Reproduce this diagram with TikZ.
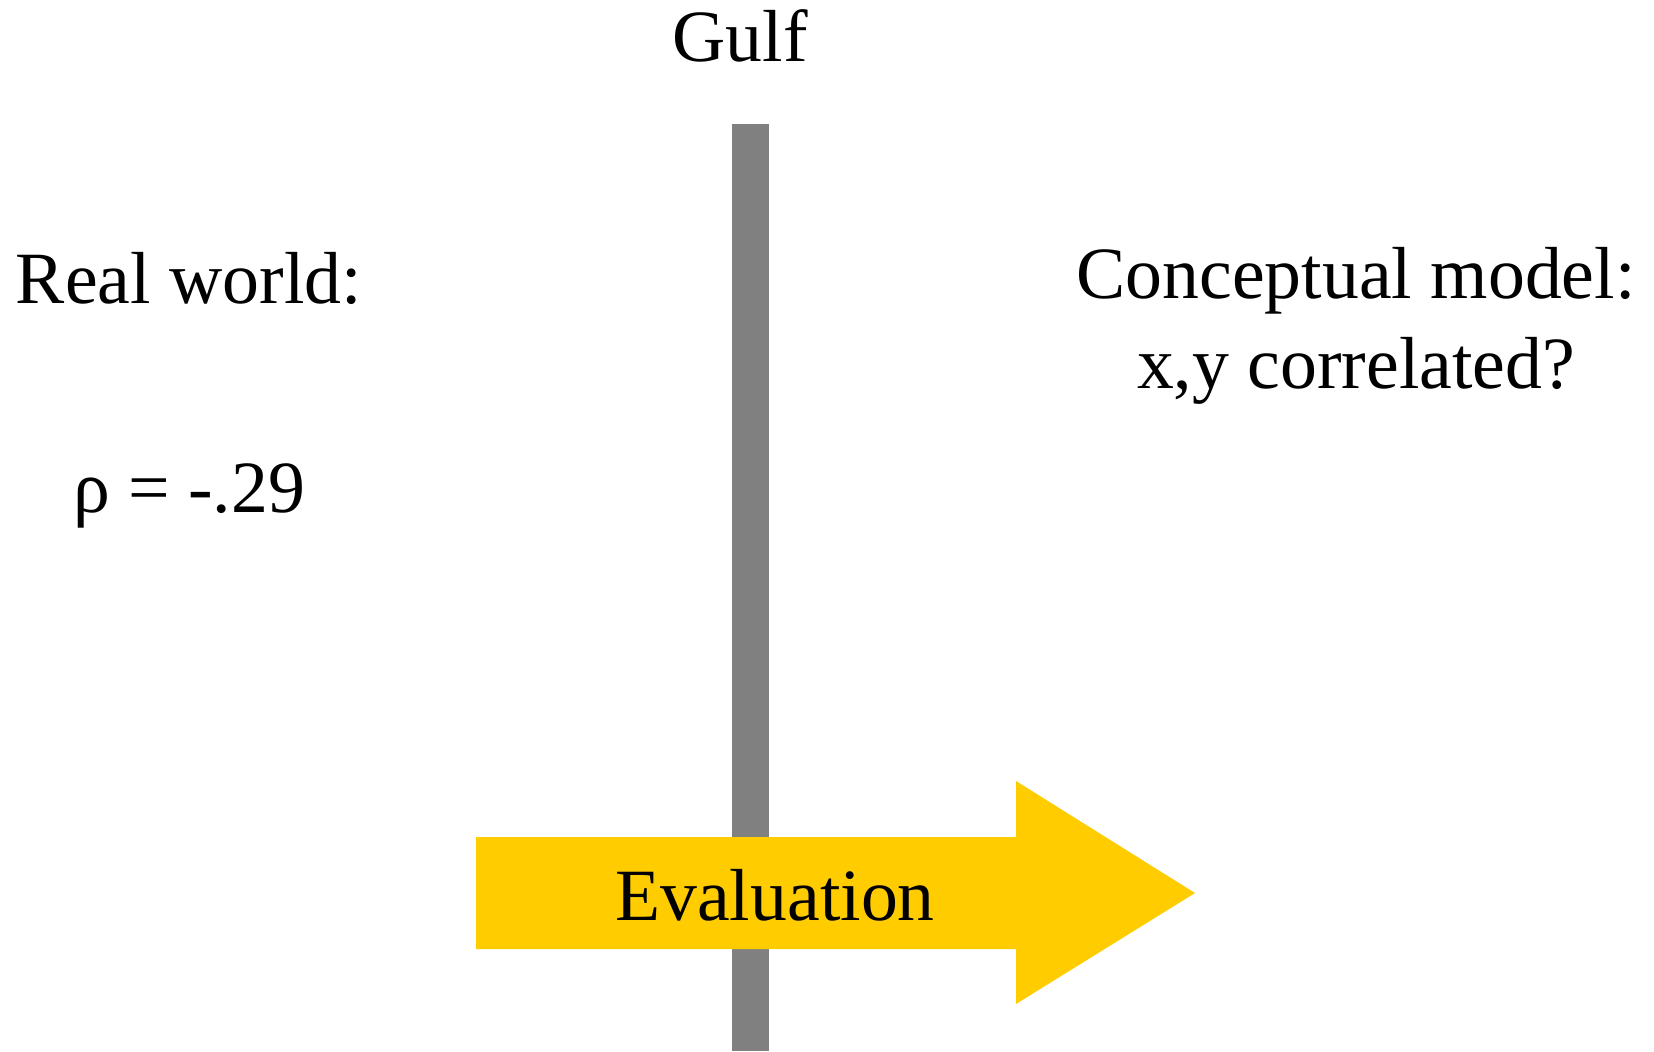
\documentclass[tikz,border=0pt]{standalone}
\usepackage{fontspec}
\setmainfont{Liberation Serif}
\definecolor{gulfgrey}{HTML}{808080}
\definecolor{evalyellow}{HTML}{FFCC00}
\begin{document}
\begin{tikzpicture}[x=1bp,y=-1bp]
	\useasboundingbox (0,0) rectangle (1654,1051);
	% the gulf
	\fill[gulfgrey] (732,124) rectangle (769,1051);
	% evaluation arrow
	\fill[evalyellow] (476,837) -- (1016,837) -- (1016,781) -- (1195,893)
		-- (1016,1004) -- (1016,949) -- (476,949) -- cycle;
	\begin{scope}[every node/.style={anchor=base,inner sep=0pt,font=\fontsize{74}{90}\selectfont}]
		\node (gulf) at (740,61) {Gulf};
		\node (real) at (189,303) {Real world:};
		\node (rho) at (189,512) {ρ = -.29};
		\node (model) at (1356,298) {Conceptual model:};
		\node (corr) at (1356,388) {x,y correlated?};
		\node (eval) at (775,920) {Evaluation};
	\end{scope}
\end{tikzpicture}
\end{document}
